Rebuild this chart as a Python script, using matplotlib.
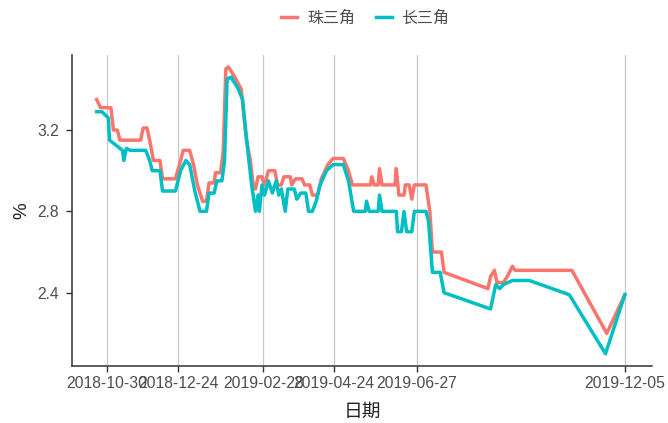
#!/usr/bin/python
import pandas as pd
import matplotlib
matplotlib.use('agg')
import matplotlib.pyplot as plt
import matplotlib.dates as mdates

plt.rcParams['font.family'] = ['Liberation Sans', 'Noto Sans CJK SC']

# 珠三角
zsj_dates = ['2018-10-22', '2018-10-25', '2018-11-02', '2018-11-04', '2018-11-07', '2018-11-09',
             '2018-11-25', '2018-11-27', '2018-11-30', '2018-12-02', '2018-12-05', '2018-12-10',
             '2018-12-12', '2018-12-22', '2018-12-26', '2018-12-28', '2019-01-02', '2019-01-05',
             '2019-01-08', '2019-01-12', '2019-01-15', '2019-01-17', '2019-01-21', '2019-01-22',
             '2019-01-26', '2019-01-28', '2019-01-30', '2019-02-01', '2019-02-06', '2019-02-11',
             '2019-02-13', '2019-02-15', '2019-02-18', '2019-02-20', '2019-02-22', '2019-02-24',
             '2019-02-27', '2019-03-01', '2019-03-04', '2019-03-09', '2019-03-11', '2019-03-14',
             '2019-03-16', '2019-03-21', '2019-03-22', '2019-03-25', '2019-03-30', '2019-04-01',
             '2019-04-05', '2019-04-07', '2019-04-11', '2019-04-14', '2019-04-19', '2019-04-23',
             '2019-05-01', '2019-05-05', '2019-05-08', '2019-05-22', '2019-05-23', '2019-05-25',
             '2019-05-28', '2019-05-29', '2019-05-31', '2019-06-10', '2019-06-11', '2019-06-13',
             '2019-06-17', '2019-06-18', '2019-06-21', '2019-06-23', '2019-06-25', '2019-07-04',
             '2019-07-07', '2019-07-09', '2019-07-16', '2019-07-18', '2019-08-21', '2019-08-23',
             '2019-08-26', '2019-08-28', '2019-09-02', '2019-09-05', '2019-09-09', '2019-09-11',
             '2019-10-25', '2019-11-21', '2019-12-05']
zsj_vals = [3.35, 3.31, 3.31, 3.20, 3.20, 3.15,
            3.15, 3.21, 3.21, 3.15, 3.05, 3.05,
            2.96, 2.96, 3.05, 3.10, 3.10, 3.03,
            2.93, 2.85, 2.85, 2.94, 2.94, 2.99,
            2.99, 3.10, 3.50, 3.51, 3.46, 3.40,
            3.27, 3.15, 3.05, 2.94, 2.91, 2.97,
            2.97, 2.93, 3.00, 3.00, 2.93, 2.93,
            2.97, 2.97, 2.93, 2.96, 2.96, 2.93,
            2.93, 2.88, 2.88, 2.96, 3.03, 3.06,
            3.06, 3.00, 2.93, 2.93, 2.97, 2.93,
            2.93, 3.01, 2.93, 2.93, 3.01, 2.88,
            2.88, 2.93, 2.93, 2.86, 2.93, 2.93,
            2.80, 2.60, 2.60, 2.50, 2.42, 2.48,
            2.51, 2.45, 2.45, 2.48, 2.53, 2.51,
            2.51, 2.20, 2.39]

# 长三角
csj_dates = ['2018-10-22', '2018-10-26', '2018-10-31', '2018-11-01', '2018-11-05', '2018-11-11',
             '2018-11-12', '2018-11-14', '2018-11-17', '2018-11-29', '2018-12-02', '2018-12-04',
             '2018-12-10', '2018-12-12', '2018-12-22', '2018-12-26', '2018-12-30', '2019-01-02',
             '2019-01-06', '2019-01-10', '2019-01-15', '2019-01-17', '2019-01-21', '2019-01-23',
             '2019-01-27', '2019-01-29', '2019-01-31', '2019-02-03', '2019-02-08', '2019-02-12',
             '2019-02-14', '2019-02-16', '2019-02-19', '2019-02-22', '2019-02-24', '2019-02-25',
             '2019-02-27', '2019-03-01', '2019-03-04', '2019-03-07', '2019-03-10', '2019-03-12',
             '2019-03-14', '2019-03-17', '2019-03-19', '2019-03-24', '2019-03-26', '2019-03-29',
             '2019-04-02', '2019-04-04', '2019-04-07', '2019-04-10', '2019-04-13', '2019-04-18',
             '2019-04-23', '2019-05-01', '2019-05-05', '2019-05-09', '2019-05-18', '2019-05-19',
             '2019-05-21', '2019-05-28', '2019-05-29', '2019-05-31', '2019-06-11', '2019-06-12',
             '2019-06-15', '2019-06-17', '2019-06-19', '2019-06-23', '2019-06-25', '2019-07-04',
             '2019-07-06', '2019-07-09', '2019-07-15', '2019-07-18', '2019-08-23', '2019-08-27',
             '2019-08-30', '2019-09-02', '2019-09-09', '2019-09-22', '2019-10-23', '2019-11-20',
             '2019-12-05']
csj_vals = [3.29, 3.29, 3.26, 3.15, 3.13, 3.10,
            3.05, 3.11, 3.10, 3.10, 3.05, 3.00,
            3.00, 2.90, 2.90, 3.00, 3.05, 3.03,
            2.90, 2.80, 2.80, 2.89, 2.89, 2.95,
            2.95, 3.05, 3.45, 3.46, 3.41, 3.35,
            3.22, 3.10, 2.93, 2.80, 2.88, 2.80,
            2.93, 2.88, 2.95, 2.89, 2.95, 2.88,
            2.91, 2.80, 2.91, 2.91, 2.86, 2.89,
            2.89, 2.80, 2.80, 2.85, 2.93, 3.00,
            3.03, 3.03, 2.95, 2.80, 2.80, 2.85,
            2.80, 2.80, 2.88, 2.80, 2.80, 2.70,
            2.70, 2.80, 2.70, 2.70, 2.80, 2.80,
            2.75, 2.50, 2.50, 2.40, 2.32, 2.44,
            2.42, 2.44, 2.46, 2.46, 2.39, 2.10,
            2.39]

tick_dates = ['2018-10-30', '2018-12-24', '2019-02-28', '2019-04-24', '2019-06-27', '2019-12-05']
y_ticks = [2.4, 2.8, 3.2]

red = '#F8766D'
cyan = '#00BFC4'
dark = '#333333'
grey = '#4D4D4D'

fig = plt.figure(figsize=(6.68, 4.23), dpi=100)
ax = fig.add_axes([0.108, 0.135, 0.868, 0.735])

ticks = pd.to_datetime(tick_dates)
for t in ticks:
    ax.axvline(t, color='#C8C8C8', lw=0.9, zorder=0)

ax.plot(pd.to_datetime(zsj_dates), zsj_vals, color=red, lw=2.5, label='珠三角')
ax.plot(pd.to_datetime(csj_dates), csj_vals, color=cyan, lw=2.5, label='长三角')

ax.set_xlim(pd.Timestamp('2018-10-03'), pd.Timestamp('2019-12-26'))
ax.set_ylim(2.04, 3.569)
ax.set_xticks(ticks)
ax.xaxis.set_major_formatter(mdates.DateFormatter('%Y-%m-%d'))
ax.set_yticks(y_ticks)
ax.set_yticklabels(['%.1f' % v for v in y_ticks])

for s in ['top', 'right']:
    ax.spines[s].set_visible(False)
for s in ['left', 'bottom']:
    ax.spines[s].set_color(dark)
    ax.spines[s].set_linewidth(1.1)
ax.tick_params(axis='both', colors=dark, labelcolor=grey, labelsize=11.3, length=4.5, width=1)
ax.tick_params(axis='y', pad=5)
ax.tick_params(axis='x', pad=3)

# labels overlap on the x axis like in the original, left as is
ax.set_xlabel('日期', fontsize=13.5, color='#222222', labelpad=9)
ax.set_ylabel('%', fontsize=13.5, color='#222222', labelpad=5)

fig.legend(loc='upper center', bbox_to_anchor=(0.547, 1.01), ncol=2, frameon=False,
           handlelength=1.0, handletextpad=0.6, columnspacing=1.3, fontsize=11.5,
           labelcolor='#4D4D4D')

plt.savefig('out.png', dpi=100)
plt.close(fig)
